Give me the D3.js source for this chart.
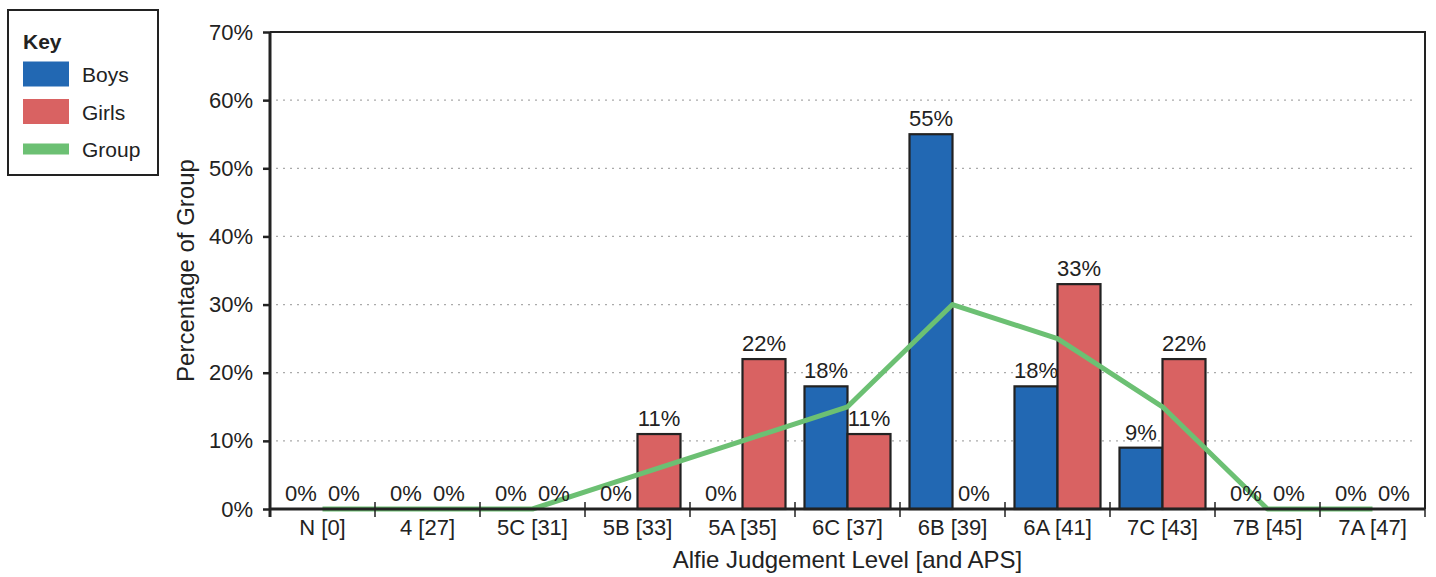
<!DOCTYPE html>
<html>
<head>
<meta charset="utf-8">
<script src="https://cdn.jsdelivr.net/npm/d3@7"></script>
<style>
  body { margin: 0; background: #fff; }
  text { font-family: "Liberation Sans", Arial, sans-serif; fill: #222; }
</style>
</head>
<body>
<svg id="chart" width="1436" height="577"></svg>
<script>
// data
const levels = ["N [0]", "4 [27]", "5C [31]", "5B [33]", "5A [35]", "6C [37]", "6B [39]", "6A [41]", "7C [43]", "7B [45]", "7A [47]"];
const boys = [0, 0, 0, 0, 0, 18, 55, 18, 9, 0, 0];
const girls = [0, 0, 0, 11, 22, 11, 0, 33, 22, 0, 0];
const group = [0, 0, 0, 5, 10, 15, 30, 25, 15, 0, 0];
const yTicks = [0, 10, 20, 30, 40, 50, 60, 70];

const colBoys = "#2268b3", colGirls = "#d96262", colGroup = "#6cc073";

const svg = d3.select("#chart");
const plotL = 270, plotR = 1425, plotT = 32, plotB = 509;

const x = d3.scaleBand().domain(levels).range([plotL, plotR]).padding(0);
const y = d3.scaleLinear().domain([0, 70]).range([plotB, plotT]);
const barW = 43;

// gridlines
svg.append("g").selectAll("line")
  .data(yTicks.filter(d => d > 0 && d < 70))
  .enter().append("line")
  .attr("x1", plotL + 6).attr("x2", plotR - 8)
  .attr("y1", d => y(d)).attr("y2", d => y(d))
  .attr("stroke", "#aaa").attr("stroke-width", 1.3)
  .attr("stroke-dasharray", "2,5");

// frame top/right
svg.append("path")
  .attr("d", `M${plotL},${plotT}H${plotR}V${plotB}`)
  .attr("fill", "none").attr("stroke", "#222").attr("stroke-width", 2);

// bars
const bars = svg.append("g");
bars.selectAll("rect.boys")
  .data(levels.map((l, i) => ({ l, v: boys[i] })).filter(d => d.v > 0))
  .enter().append("rect")
  .attr("x", d => x(d.l) + x.bandwidth() / 2 - barW)
  .attr("width", barW)
  .attr("y", d => y(d.v))
  .attr("height", d => plotB - y(d.v))
  .attr("fill", colBoys).attr("stroke", "#222").attr("stroke-width", 2.2);
bars.selectAll("rect.girls")
  .data(levels.map((l, i) => ({ l, v: girls[i] })).filter(d => d.v > 0))
  .enter().append("rect")
  .attr("x", d => x(d.l) + x.bandwidth() / 2)
  .attr("width", barW)
  .attr("y", d => y(d.v))
  .attr("height", d => plotB - y(d.v))
  .attr("fill", colGirls).attr("stroke", "#222").attr("stroke-width", 2.2);

// group line
const line = d3.line()
  .x((d, i) => x(levels[i]) + x.bandwidth() / 2)
  .y(d => y(d));
svg.append("path")
  .datum(group)
  .attr("d", line)
  .attr("fill", "none").attr("stroke", colGroup).attr("stroke-width", 5)
  .attr("stroke-linejoin", "round");

// value labels
const labels = svg.append("g").attr("font-size", 22).attr("text-anchor", "middle");
levels.forEach((l, i) => {
  labels.append("text")
    .attr("x", x(l) + x.bandwidth() / 2 - barW / 2)
    .attr("y", y(boys[i]) - 8)
    .text(boys[i] + "%");
  labels.append("text")
    .attr("x", x(l) + x.bandwidth() / 2 + barW / 2)
    .attr("y", y(girls[i]) - 8)
    .text(girls[i] + "%");
});

// y axis
const yAxis = svg.append("g")
  .attr("transform", `translate(${plotL},0)`)
  .call(d3.axisLeft(y).tickValues(yTicks).tickFormat(d => d + "%").tickSize(7).tickPadding(10));
yAxis.select(".domain").attr("stroke", "#222").attr("stroke-width", 3)
  .attr("d", `M0,${plotT}V${plotB + 8}`);
yAxis.selectAll(".tick line").attr("stroke", "#222").attr("stroke-width", 2.5);
yAxis.selectAll(".tick text").attr("font-size", 22).attr("fill", "#222")
  .attr("font-family", "Liberation Sans, Arial, sans-serif");

// x axis
const xAxis = svg.append("g")
  .attr("transform", `translate(0,${plotB})`)
  .call(d3.axisBottom(x).tickSize(0).tickPadding(10));
xAxis.select(".domain").attr("stroke", "#222").attr("stroke-width", 3)
  .attr("d", `M${plotL},0H${plotR}`);
xAxis.selectAll(".tick text").attr("font-size", 22).attr("fill", "#222")
  .attr("font-family", "Liberation Sans, Arial, sans-serif");
// separator ticks between categories
xAxis.append("g").selectAll("line")
  .data(levels)
  .enter().append("line")
  .attr("x1", d => x(d) + x.bandwidth())
  .attr("x2", d => x(d) + x.bandwidth())
  .attr("y1", -7).attr("y2", 8)
  .attr("stroke", "#222").attr("stroke-width", 1.5);

// axis titles
svg.append("text")
  .attr("x", (plotL + plotR) / 2).attr("y", 568)
  .attr("text-anchor", "middle").attr("font-size", 24)
  .text("Alfie Judgement Level [and APS]");
svg.append("text")
  .attr("transform", `translate(194,${(plotT + plotB) / 2}) rotate(-90)`)
  .attr("text-anchor", "middle").attr("font-size", 24)
  .text("Percentage of Group");

// legend
const key = svg.append("g");
key.append("rect").attr("x", 8).attr("y", 10).attr("width", 150).attr("height", 165)
  .attr("fill", "#fff").attr("stroke", "#222").attr("stroke-width", 2);
key.append("text").attr("x", 23).attr("y", 49).attr("font-size", 21).attr("font-weight", "bold").text("Key");
const items = [
  { name: "Boys", color: colBoys, h: 25 },
  { name: "Girls", color: colGirls, h: 25 },
  { name: "Group", color: colGroup, h: 11 }
];
items.forEach((it, i) => {
  const cy = 74 + i * 37.5;
  key.append("rect").attr("x", 23).attr("y", cy - it.h / 2).attr("width", 46).attr("height", it.h)
    .attr("fill", it.color);
  key.append("text").attr("x", 82).attr("y", cy + 8).attr("font-size", 21).text(it.name);
});
</script>
</body>
</html>
